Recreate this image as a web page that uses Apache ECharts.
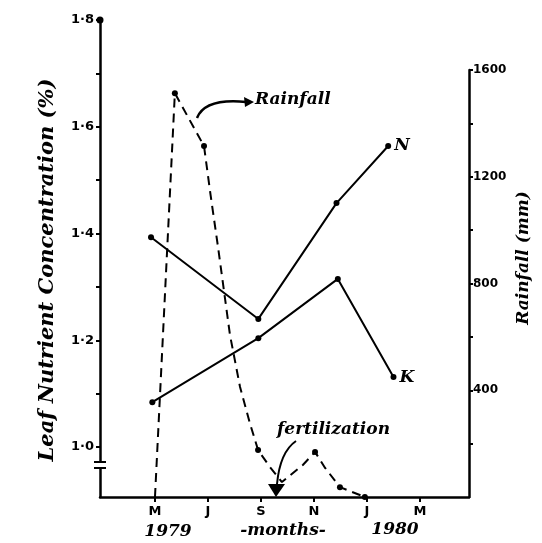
<!DOCTYPE html>
<html><head><meta charset="utf-8">
<script src="https://cdn.jsdelivr.net/npm/echarts@6/dist/echarts.min.js"></script>
<style>html,body{margin:0;padding:0;background:#fff}#c{width:542px;height:543px}</style>
</head><body><div id="c"></div>
<script>
// Month axis: 0 = May 1979, one unit per month
const monthTicks = [0, 2, 4, 6, 8, 10];
const monthLabels = ['M', 'J', 'S', 'N', 'J', 'M'];

// Leaf nutrient axis (%)
const nutrientTicks = [1.0, 1.1, 1.2, 1.3, 1.4, 1.5, 1.6, 1.7, 1.8];
const nutrientLabelValues = [1.0, 1.2, 1.4, 1.6, 1.8];
const nutrientLabels = ['1·0', '1·2', '1·4', '1·6', '1·8'];

// Rainfall axis (mm)
const rainTicks = [200, 400, 600, 800, 1000, 1200, 1400, 1600];
const rainLabelValues = [400, 800, 1200, 1600];

// Leaf N
const nMonths = [-0.15, 3.9, 6.85, 8.8];
const nValues = [1.393, 1.240, 1.457, 1.564];
// Leaf K
const kMonths = [-0.1, 3.9, 6.9, 9.0];
const kValues = [1.084, 1.204, 1.315, 1.131];

// Monthly rainfall trace
const rainMonths = [0, 0.75, 1.85, 2.1, 2.38, 2.83, 3.21, 3.58, 3.89, 4.34, 4.79, 5.58, 6.04, 6.42, 6.98, 7.92];
const rainValues = [0, 1513, 1315, 1130, 936, 607, 412, 277, 176, 112, 56, 120, 169, 109, 37, 0];
const rainDots  = [0, 1, 1, 0, 0, 0, 0, 0, 1, 0, 0, 0, 1, 0, 1, 1];

const INK = '#000';
const HAND = 'italic bold 17px "DejaVu Serif", serif';

const chart = echarts.init(document.getElementById('c'), null, {renderer: 'canvas'});

const xRange = {min: -2.075, max: 11.85};

function endLabel(xs, ys, text) {
  return xs.map((x, i) => {
    const item = {value: [x, ys[i]]};
    if (i === xs.length - 1) {
      item.label = {show: true, position: 'right', distance: 3, formatter: text,
        color: INK, fontFamily: '"DejaVu Serif", serif', fontStyle: 'italic', fontWeight: 'bold', fontSize: 17};
    }
    return item;
  });
}

const option = {
  backgroundColor: '#fff',
  animation: false,
  grid: [
    {left: 100, right: 73, top: 20, bottom: 46},
    {left: 100, right: 73, top: 70, bottom: 46}
  ],
  xAxis: [
    {
      gridIndex: 0, type: 'value', min: xRange.min, max: xRange.max, position: 'bottom',
      axisLine: {show: true, onZero: false, lineStyle: {color: INK, width: 2.5}},
      axisTick: {show: true, inside: false, length: 5, lineStyle: {color: INK, width: 2}, customValues: monthTicks},
      axisLabel: {show: true, customValues: monthTicks, margin: 8, color: INK,
        fontFamily: '"DejaVu Sans", sans-serif', fontWeight: 'bold', fontSize: 13,
        formatter: v => monthLabels[monthTicks.indexOf(Math.round(v))] || ''},
      splitLine: {show: false}
    },
    {gridIndex: 1, type: 'value', min: xRange.min, max: xRange.max, show: false}
  ],
  yAxis: [
    {
      gridIndex: 0, type: 'value', min: 0.9064, max: 1.8, position: 'left',
      axisLine: {show: true, onZero: false, lineStyle: {color: INK, width: 2.5}, symbol: ['none', 'circle'], symbolSize: [7, 7]},
      axisTick: {show: true, length: 4, lineStyle: {color: INK, width: 2}, customValues: nutrientTicks},
      axisLabel: {show: true, customValues: nutrientLabelValues, margin: 6, color: INK,
        fontFamily: '"DejaVu Sans", sans-serif', fontWeight: 'bold', fontSize: 13,
        formatter: v => nutrientLabels[nutrientLabelValues.findIndex(t => Math.abs(t - v) < 1e-6)] || ''},
      splitLine: {show: false}
    },
    {
      gridIndex: 1, type: 'value', min: 0, max: 1600, position: 'right',
      axisLine: {show: true, onZero: false, lineStyle: {color: INK, width: 2.5}},
      axisTick: {show: true, length: 4, lineStyle: {color: INK, width: 2}, customValues: rainTicks},
      axisLabel: {show: true, customValues: rainLabelValues, margin: 4, color: INK,
        fontFamily: '"DejaVu Sans", sans-serif', fontWeight: 'bold', fontSize: 12,
        formatter: v => String(v)},
      splitLine: {show: false}
    }
  ],
  series: [
    {
      name: 'N', type: 'line', xAxisIndex: 0, yAxisIndex: 0,
      data: endLabel(nMonths, nValues, 'N'),
      symbol: 'circle', symbolSize: 6, itemStyle: {color: INK},
      lineStyle: {color: INK, width: 2}
    },
    {
      name: 'K', type: 'line', xAxisIndex: 0, yAxisIndex: 0,
      data: endLabel(kMonths, kValues, 'K'),
      symbol: 'circle', symbolSize: 6, itemStyle: {color: INK},
      lineStyle: {color: INK, width: 2}
    },
    {
      name: 'Rainfall', type: 'line', xAxisIndex: 1, yAxisIndex: 1,
      data: rainMonths.map((m, i) => ({value: [m, rainValues[i]], symbolSize: rainDots[i] ? 6 : 0})),
      symbol: 'circle', showSymbol: true, smooth: false,
      itemStyle: {color: INK},
      lineStyle: {color: INK, width: 2, type: [9, 6]}
    }
  ],
  graphic: [
    // axis titles
    {type: 'text', x: 48, y: 270, rotation: Math.PI / 2,
      style: {text: 'Leaf Nutrient Concentration (%)', fill: INK, font: 'italic bold 21px "DejaVu Serif", serif',
        textAlign: 'center', textVerticalAlign: 'middle'}},
    {type: 'text', x: 524, y: 258, rotation: Math.PI / 2,
      style: {text: 'Rainfall (mm)', fill: INK, font: 'italic bold 17px "DejaVu Serif", serif',
        textAlign: 'center', textVerticalAlign: 'middle'}},
    // x-axis second row
    {type: 'text', x: 168, y: 532, style: {text: '1979', fill: INK, font: HAND, textAlign: 'center', textVerticalAlign: 'middle'}},
    {type: 'text', x: 283, y: 531, style: {text: '-months-', fill: INK, font: HAND, textAlign: 'center', textVerticalAlign: 'middle'}},
    {type: 'text', x: 395, y: 530, style: {text: '1980', fill: INK, font: HAND, textAlign: 'center', textVerticalAlign: 'middle'}},
    // "Rainfall" callout
    {type: 'text', x: 255, y: 100, style: {text: 'Rainfall', fill: INK, font: HAND, textAlign: 'left', textVerticalAlign: 'middle'}},
    {type: 'bezierCurve', shape: {x1: 197, y1: 118, cpx1: 205, cpy1: 98, x2: 246, y2: 102},
      style: {stroke: INK, lineWidth: 2.5, fill: null}},
    {type: 'polygon', shape: {points: [[254, 102], [244, 97], [245, 107]]}, style: {fill: INK}},
    // fertilization callout
    {type: 'text', x: 277, y: 430, style: {text: 'fertilization', fill: INK, font: HAND, textAlign: 'left', textVerticalAlign: 'middle'}},
    {type: 'bezierCurve', shape: {x1: 296, y1: 441, cpx1: 280, cpy1: 452, x2: 277, y2: 484},
      style: {stroke: INK, lineWidth: 2, fill: null}},
    {type: 'polygon', shape: {points: [[276, 497], [268, 484], [285, 484]]}, style: {fill: INK}},
    // break mark on the nutrient axis
    {type: 'rect', z: 100, shape: {x: 96, y: 462, width: 8, height: 6}, style: {fill: '#fff'}},
    {type: 'line', z: 101, shape: {x1: 94, y1: 462, x2: 106, y2: 462}, style: {stroke: INK, lineWidth: 2}},
    {type: 'line', z: 101, shape: {x1: 94, y1: 468, x2: 106, y2: 468}, style: {stroke: INK, lineWidth: 2}}
  ]
};

chart.setOption(option);
</script>
</body></html>
